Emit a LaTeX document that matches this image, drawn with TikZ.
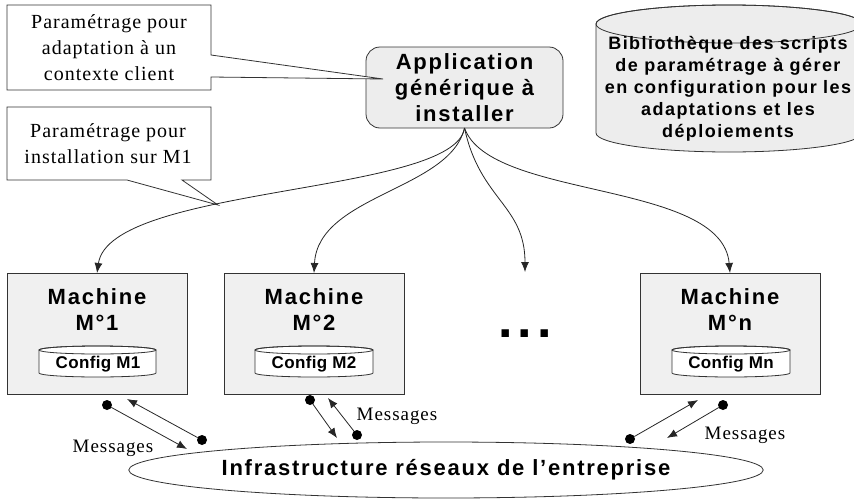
\documentclass[tikz,border=0pt]{standalone}
\usepackage{fontspec}
\setmainfont{Liberation Serif}
\setsansfont{Liberation Sans}
\newfontfamily\serifspaced[LetterSpace=5]{Liberation Serif}
\newfontfamily\sansspaced[LetterSpace=8]{Liberation Sans}
\newfontfamily\sansnarrow[LetterSpace=2]{Liberation Sans}
\usetikzlibrary{arrows.meta, shapes.geometric}

\begin{document}
\begin{tikzpicture}[x=1pt, y=1pt]
\tikzset{ >={Latex[length=10pt,width=8pt]}, inner sep=0pt, outer sep=0pt,
  callout/.style={draw=black!80, fill=white, thick},
  notetext/.style={align=center, font=\serifspaced\fontsize{20}{26}\selectfont},
  titletext/.style={align=center, font=\sansspaced\bfseries\fontsize{22}{26}\selectfont},
  machinebox/.style={draw=black!80, fill=black!6, thick, minimum width=180pt, minimum height=121pt},
  cfgtext/.style={font=\sansnarrow\bfseries\fontsize{17}{17}\selectfont},
  msgtext/.style={font=\serifspaced\fontsize{19}{19}\selectfont},
  dot/.style={fill=black, circle, minimum size=10pt},
  link/.style={->, thick, black!85},
}

\useasboundingbox (0,0) rectangle (854,-498);

% application
\node [draw=black!80, thick, fill=black!7, rounded corners=14pt, minimum width=197pt, minimum height=81pt, titletext] (app) at (464.5,-87.5) {Application\\générique à\\installer};

% bulles
\draw [callout] (7,-5) -- (211,-5) -- (211,-55) -- (383,-79) -- (211,-77) -- (211,-90) -- (7,-90) -- cycle;
\node [notetext] (note1) at (109,-48) {Paramétrage pour\\adaptation à un\\contexte client};

\draw [callout] (7,-107) -- (211,-107) -- (211,-180) -- (182,-180) -- (218,-205) -- (127,-180) -- (7,-180) -- cycle;
\node [notetext] (note2) at (108,-144) {Paramétrage pour\\installation sur M1};

% bibliotheque
\draw [fill=black!7, thick, draw=black!80] (596,-24) -- (596,-133) arc [start angle=180, end angle=360, x radius=133, y radius=19] -- (862,-24) arc [start angle=0, end angle=180, x radius=133, y radius=19] -- cycle;
\draw [thick, draw=black!80] (729,-24) ellipse [x radius=133, y radius=19];
\node [align=center, font=\sansspaced\bfseries\fontsize{18}{22}\selectfont] (lib) at (728,-89) {Bibliothèque des scripts\\de paramétrage à gérer\\en configuration pour les\\adaptations et les\\déploiements};

% machines
\node [machinebox] (m1) at (97,-333.5) {};
\node [machinebox] (m2) at (314,-333.5) {};
\node [machinebox] (mn) at (730,-333.5) {};

\node [titletext] (t1) at (97,-310) {Machine\\M°1};
\node [titletext] (t2) at (314,-310) {Machine\\M°2};
\node [titletext] (tn) at (730,-310) {Machine\\M°n};

% config
\draw [fill=white, thick, draw=black!80] (39,-350) -- (39,-373) arc [start angle=180, end angle=360, x radius=58.5, y radius=4] -- (156,-350) arc [start angle=0, end angle=180, x radius=58.5, y radius=4] -- cycle;
\draw [thick, draw=black!80] (97.5,-350) ellipse [x radius=58.5, y radius=4];
\draw [fill=white, thick, draw=black!80] (255,-350) -- (255,-373) arc [start angle=180, end angle=360, x radius=59, y radius=4] -- (373,-350) arc [start angle=0, end angle=180, x radius=59, y radius=4] -- cycle;
\draw [thick, draw=black!80] (314,-350) ellipse [x radius=59, y radius=4];
\draw [fill=white, thick, draw=black!80] (672,-350) -- (672,-373) arc [start angle=180, end angle=360, x radius=59, y radius=4] -- (790,-350) arc [start angle=0, end angle=180, x radius=59, y radius=4] -- cycle;
\draw [thick, draw=black!80] (731,-350) ellipse [x radius=59, y radius=4];

\node [cfgtext] (c1) at (98,-364) {Config M1};
\node [cfgtext] (c2) at (314,-364) {Config M2};
\node [cfgtext] (cn) at (731,-364) {Config Mn};

% points de suspension
\node [font=\sansspaced\bfseries\fontsize{52}{52}\selectfont] (dots) at (525,-333.5) {.\hspace{5pt}.\hspace{5pt}.};
\coordinate (dotsin) at (525,-272);

% deploiement
\draw [link] (app.south) .. controls (455,-195) and (110,-185) .. (m1.north);
\draw [link] (app.south) .. controls (450,-190) and (318,-195) .. (m2.north);
\draw [link] (app.south) .. controls (480,-200) and (525,-205) .. (dotsin);
\draw [link] (app.south) .. controls (490,-200) and (722,-180) .. (mn.north);

% reseau
\node [draw=black!80, thick, fill=white, ellipse, minimum width=578pt, minimum height=56pt, titletext] (infra) at (446,-470) {Infrastructure réseaux de l’entreprise};

% messages
\node [dot] (d1a) at (107,-405) {};
\node [dot] (d1b) at (202,-440) {};
\node [dot] (d2a) at (310,-400) {};
\node [dot] (d2b) at (357,-435) {};
\node [dot] (dna) at (630,-439) {};
\node [dot] (dnb) at (723,-405) {};

\coordinate (a1a) at (187,-449);
\coordinate (a1b) at (127,-399);
\coordinate (a2a) at (337,-438);
\coordinate (a2b) at (328,-398);
\coordinate (ana) at (698,-400);
\coordinate (anb) at (667,-438);

\draw [link] (d1a) -- (a1a);
\draw [link] (d1b) -- (a1b);
\draw [link] (d2a) -- (a2a);
\draw [link] (d2b) -- (a2b);
\draw [link] (dna) -- (ana);
\draw [link] (dnb) -- (anb);

\node [msgtext] (msg1) at (113,-448) {Messages};
\node [msgtext] (msg2) at (397,-416) {Messages};
\node [msgtext] (msgn) at (745,-435) {Messages};

\end{tikzpicture}
\end{document}
